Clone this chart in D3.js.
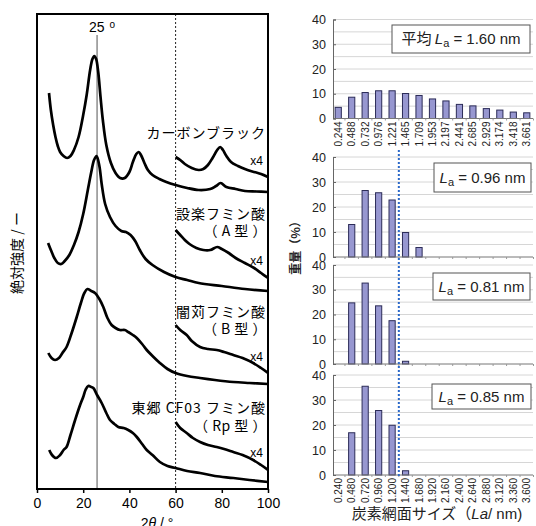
<!DOCTYPE html>
<html>
<head>
<meta charset="utf-8">
<script src="https://cdn.jsdelivr.net/npm/d3@7"></script>
<style>
  body { margin: 0; background: #fff; }
  svg { display: block; }
  text { white-space: pre; }
</style>
</head>
<body>
<svg id="chart" width="536" height="526"></svg>
<script>
/* ============================================================
   DATA : XRD patterns  [2theta, intensity (a.u.)]
============================================================ */
const cbMain = [[5.2,396],[6,379],[7,364],[8,352],[9,343],[10,337],[11.5,333],[13,331],[14.5,333],[16,339],[18,352],[20,374],[21.5,394],[23,419],[24,430],[24.8,433],[25.6,430],[26.5,417],[27.5,392],[28.5,369],[30,344],[32,326],[34,316],[36,311],[38,311],[40,317],[41.5,327],[43,335],[44,337],[45,334],[46.5,326],[48,319],[50,314],[53,310],[56,307],[60,304],[65,301],[70,299],[75,300],[77.5,303],[79.5,306],[82,302],[86,300],[90,298],[95,297.5],[100,297]];
const cbX4 = [[60,332],[62,329],[64,325],[67,321],[70,319],[72,320],[74,324],[76,331],[78,339],[79.3,342],[80.5,339],[82,333],[84,327],[87,323],[90,320],[94,317],[97,315],[100,312]];

const aMain = [[4.8,246],[6,239],[7.5,231],[9,226],[10.5,225],[12,228],[14,234],[16,244],[18,257],[20,275],[22,299],[23.5,317],[24.7,329],[25.8,333],[27,323],[28,305],[29.5,285],[31.6,272],[34,263],[36.5,258],[38.5,257],[40.5,254],[42.5,248],[44.5,239],[47,230],[50,224],[55,217],[60,212],[65,209],[70,206],[80,203],[90,200],[100,198]];
const aX4 = [[60,259],[62,254],[64,249],[66,245],[69,241],[72,239],[75,239],[78,242],[80,240],[83,236],[86,231],[90,226],[94,221],[97,216],[100,211]];

const bMain = [[4.9,136],[6.3,131],[7.8,129],[9.5,131],[11,136],[12.8,142],[15,156],[17.2,172],[19,186],[20.5,196],[21.8,200],[23.5,198],[25.1,196],[27,190],[28.7,182],[30.5,171],[32.3,164],[34,161],[35.9,159],[38,159],[39.5,157],[41.5,154],[43.2,151],[45.5,145],[47.5,139],[50,133],[53.2,126],[56.5,120],[60,116],[65,113],[70.6,111],[77,109],[85,107],[92,106],[100,105]];
const bX4 = [[60,164],[62,159],[64.8,154],[67,148],[70.6,142],[74,140],[77.8,139],[81,137],[85,134],[89,131],[93.6,126],[97,121],[100,116]];

const rpMain = [[5.3,39],[6.5,34],[8.2,31],[10,34],[11.5,39],[12.8,42],[14.5,54],[16.5,69],[18.5,83],[20,92],[21,99],[22.2,103],[23.5,102],[24.4,101],[26,94],[28,86],[30,76],[31.6,69],[33.5,65],[35.2,62],[37.5,61],[39.5,59],[41.5,56],[43.2,52],[45.5,45],[47.5,39],[50,34],[53.2,27],[56.5,23],[60,21],[65,18],[70.6,16],[77,13],[85,11],[92,9],[100,7]];
const rpX4 = [[60,67],[62,61],[64.8,56],[67.5,51],[70.6,47],[74,44],[77.8,42],[81,40],[85,37],[89,34],[93.6,29],[97,24],[100,19]];

const sampleNames = ["カーボンブラック", "設楽フミン酸", "闇苅フミン酸", "東郷 CF03 フミン酸"];
const sampleTypes = ["", "（ A 型 ）", "（ B 型 ）", "（ Rp 型 ）"];
const xTicks = [0, 20, 40, 60, 80, 100];
const peakRef = 26;     // "25°" reference line
const x4Start = 60;     // magnified region

/* ============================================================
   DATA : crystallite size distributions (weight %)
============================================================ */
const sizesTop = ["0.244","0.488","0.732","0.976","1.221","1.465","1.709","1.953","2.197","2.441","2.685","2.929","3.174","3.418","3.661"];
const sizesBottom = ["0.240","0.480","0.720","0.960","1.200","1.440","1.680","1.920","2.160","2.400","2.640","2.880","3.120","3.360","3.600"];
const cbWeight = [4.5,8.6,10.5,11.2,11.2,10.1,9.3,7.9,7.1,5.7,5.1,4.0,3.4,2.6,2.3];
const aWeight  = [0,13.0,26.6,25.7,22.8,9.8,3.8,0,0,0,0,0,0,0,0];
const bWeight  = [0,24.7,32.7,23.5,17.5,1.1,0,0,0,0,0,0,0,0,0];
const rpWeight = [0,16.9,35.5,25.8,19.9,1.7,0,0,0,0,0,0,0,0,0];
const meanLa = ["1.60","0.96","0.81","0.85"];
const yTicksR = [0, 10, 20, 30, 40];
const cutSize = "1.440";

/* ============================================================
   LEFT CHART : XRD
============================================================ */
const svg = d3.select("#chart");
const JP = "'Noto Sans CJK JP', sans-serif";
const SANS = "'Liberation Sans', Arial, sans-serif";

const L = { left: 37, right: 268, top: 14, bottom: 489 };
const x = d3.scaleLinear().domain([0, 100]).range([L.left, L.right]);
const y = d3.scaleLinear().domain([0, 475]).range([L.bottom, L.top]);

svg.append("clipPath").attr("id", "clipL")
  .append("rect")
  .attr("x", L.left).attr("y", L.top)
  .attr("width", L.right - L.left).attr("height", L.bottom - L.top);

// reference lines
svg.append("line")
  .attr("x1", x(peakRef)).attr("x2", x(peakRef))
  .attr("y1", 35).attr("y2", L.bottom)
  .attr("stroke", "#555").attr("stroke-width", 1);
svg.append("line")
  .attr("x1", x(x4Start)).attr("x2", x(x4Start))
  .attr("y1", L.top).attr("y2", L.bottom)
  .attr("stroke", "#222").attr("stroke-width", 1)
  .attr("stroke-dasharray", "2,2");

const line = d3.line()
  .x(d => x(d[0]))
  .y(d => y(d[1]))
  .curve(d3.curveCatmullRom.alpha(0.5));

const curves = svg.append("g").attr("clip-path", "url(#clipL)");
[cbMain, cbX4, aMain, aX4, bMain, bX4, rpMain, rpX4].forEach(s => {
  curves.append("path")
    .attr("d", line(s))
    .attr("fill", "none")
    .attr("stroke", "#000")
    .attr("stroke-width", 2.7)
    .attr("stroke-linejoin", "round");
});

// frame
svg.append("rect")
  .attr("x", L.left).attr("y", L.top)
  .attr("width", L.right - L.left).attr("height", L.bottom - L.top)
  .attr("fill", "none").attr("stroke", "#000").attr("stroke-width", 2);

// x axis
const xAxis = svg.append("g")
  .attr("transform", `translate(0,${L.bottom})`)
  .call(d3.axisBottom(x).tickValues(xTicks).tickSize(4).tickPadding(5));
xAxis.select(".domain").remove();
xAxis.selectAll("line").attr("stroke", "#000").attr("stroke-width", 1.5);
xAxis.selectAll("text")
  .attr("font-family", SANS).attr("font-size", 14).attr("fill", "#000");

// axis titles (x title is cut by the bottom edge, as in the source)
svg.append("text")
  .attr("x", 157).attr("y", 528)
  .attr("text-anchor", "middle")
  .attr("font-family", SANS).attr("font-size", 14)
  .html("2<tspan font-style='italic'>θ</tspan> / °");

svg.append("text")
  .attr("transform", "translate(22,253) rotate(-90)")
  .attr("text-anchor", "middle")
  .attr("font-family", JP).attr("font-size", 14)
  .text("絶対強度 / ー");

// "25 o" label
const peakLbl = svg.append("text")
  .attr("x", 89).attr("y", 32)
  .attr("font-family", SANS).attr("font-size", 14);
peakLbl.append("tspan").text("25");
peakLbl.append("tspan").attr("dx", 5).attr("dy", -4).attr("font-size", 10).text("o");

// sample labels
const nameY = [138, 219, 317, 413];
const typeY = [0, 236, 334, 431];
const x4Y = [165, 265, 361, 457];
sampleNames.forEach((n, i) => {
  svg.append("text")
    .attr("x", 266).attr("y", nameY[i])
    .attr("text-anchor", "end")
    .attr("font-family", JP).attr("font-size", 14)
    .attr("letter-spacing", 1)
    .text(n);
  if (sampleTypes[i]) {
    svg.append("text")
      .attr("x", 267).attr("y", typeY[i])
      .attr("text-anchor", "end")
      .attr("font-family", JP).attr("font-size", 14)
      .attr("letter-spacing", 0.5)
      .text(sampleTypes[i]);
  }
  svg.append("text")
    .attr("x", 263).attr("y", x4Y[i])
    .attr("text-anchor", "end")
    .attr("font-family", "'Liberation Sans Narrow', 'Liberation Sans', sans-serif")
    .attr("font-size", 12)
    .text("x4");
});

/* ============================================================
   RIGHT CHART : size distributions
============================================================ */
const R = { axis: 333, right: 533 };
const panels = [
  { data: cbWeight, cats: sizesTop,    top: 19.5, zero: 118.5, box: [392, 25, 138, 28], labels: true,  prefix: "平均 " },
  { data: aWeight,  cats: sizesBottom, top: 157,  zero: 257,   box: [434, 163, 97, 29], labels: false, prefix: "" },
  { data: bWeight,  cats: sizesBottom, top: 265,  zero: 364,   box: [433, 273, 97, 27], labels: false, prefix: "" },
  { data: rpWeight, cats: sizesBottom, top: 375,  zero: 475,   box: [432, 384, 99, 25], labels: true,  prefix: "" }
];

panels.forEach((p, i) => {
  const xb = d3.scaleBand().domain(p.cats).range([331.5, 533.5]);
  const yr = d3.scaleLinear().domain([0, 40]).range([p.zero, p.top]);
  const g = svg.append("g");

  // gridlines every 5
  g.selectAll(".grid")
    .data(d3.range(5, 41, 5))
    .enter().append("line")
    .attr("x1", R.axis).attr("x2", R.right)
    .attr("y1", d => yr(d)).attr("y2", d => yr(d))
    .attr("stroke", "#d6d6d6").attr("stroke-width", 1);

  // bars
  const bw = xb.bandwidth() * 0.46;
  g.selectAll(".bar")
    .data(p.data.map((v, k) => ({ v, c: p.cats[k] })).filter(d => d.v > 0))
    .enter().append("rect")
    .attr("x", d => xb(d.c) + (xb.bandwidth() - bw) / 2)
    .attr("y", d => yr(d.v))
    .attr("width", bw)
    .attr("height", d => yr(0) - yr(d.v))
    .attr("fill", "#9797d0")
    .attr("stroke", "#2c2c58")
    .attr("stroke-width", 1);

  // x baseline + category ticks
  g.append("line")
    .attr("x1", R.axis).attr("x2", R.right)
    .attr("y1", yr(0)).attr("y2", yr(0))
    .attr("stroke", "#777");
  g.selectAll(".xt")
    .data(p.cats)
    .enter().append("line")
    .attr("x1", d => xb(d) + xb.bandwidth()).attr("x2", d => xb(d) + xb.bandwidth())
    .attr("y1", yr(0)).attr("y2", yr(0) + 2)
    .attr("stroke", "#999");

  // y axis
  const ya = g.append("g")
    .attr("transform", `translate(${R.axis},0)`)
    .call(d3.axisLeft(yr).tickValues(yTicksR).tickSize(-3).tickPadding(7));
  ya.select(".domain").attr("stroke", "#666");
  ya.selectAll("line").attr("stroke", "#666");
  ya.selectAll("text")
    .attr("font-family", SANS).attr("font-size", 12.5).attr("fill", "#222");

  // category labels
  if (p.labels) {
    g.selectAll(".cl")
      .data(p.cats)
      .enter().append("text")
      .attr("transform", d => `translate(${xb(d) + xb.bandwidth() / 2 + 3.5},${yr(0) + 3}) rotate(-90)`)
      .attr("text-anchor", "end")
      .attr("font-family", SANS).attr("font-size", 10).attr("fill", "#222")
      .text(d => d);
  }

  // annotation box
  g.append("rect")
    .attr("x", p.box[0]).attr("y", p.box[1])
    .attr("width", p.box[2]).attr("height", p.box[3])
    .attr("fill", "#fff").attr("stroke", "#555").attr("stroke-width", 1);
  const t = g.append("text")
    .attr("x", p.box[0] + p.box[2] / 2).attr("y", p.box[1] + p.box[3] / 2 + 5)
    .attr("text-anchor", "middle")
    .attr("font-family", SANS).attr("font-size", 15).attr("fill", "#222");
  if (p.prefix) t.append("tspan").attr("font-family", JP).text(p.prefix);
  t.append("tspan").attr("font-style", "italic").text("L");
  t.append("tspan").attr("font-size", 11).attr("dy", 3).text("a");
  t.append("tspan").attr("dy", -3).text(` = ${meanLa[i]} nm`);
});

// cutoff line (blue dotted)
const xbCut = d3.scaleBand().domain(sizesBottom).range([331.5, 533.5]);
svg.append("line")
  .attr("x1", xbCut(cutSize)).attr("x2", xbCut(cutSize))
  .attr("y1", 150).attr("y2", 476)
  .attr("stroke", "#2b68c8").attr("stroke-width", 2)
  .attr("stroke-dasharray", "2,2");

// right axis titles
svg.append("text")
  .attr("transform", "translate(300,245) rotate(-90)")
  .attr("text-anchor", "middle")
  .attr("font-family", JP).attr("font-size", 12).attr("font-weight", "bold").attr("fill", "#222")
  .text("重量（%）");

const xt = svg.append("text")
  .attr("x", 437).attr("y", 519)
  .attr("text-anchor", "middle")
  .attr("font-family", JP).attr("font-size", 15).attr("fill", "#222");
xt.append("tspan").text("炭素網面サイズ（");
xt.append("tspan").attr("font-family", SANS).attr("font-style", "italic").text("La");
xt.append("tspan").attr("font-family", SANS).text("/ nm)");
</script>
</body>
</html>
